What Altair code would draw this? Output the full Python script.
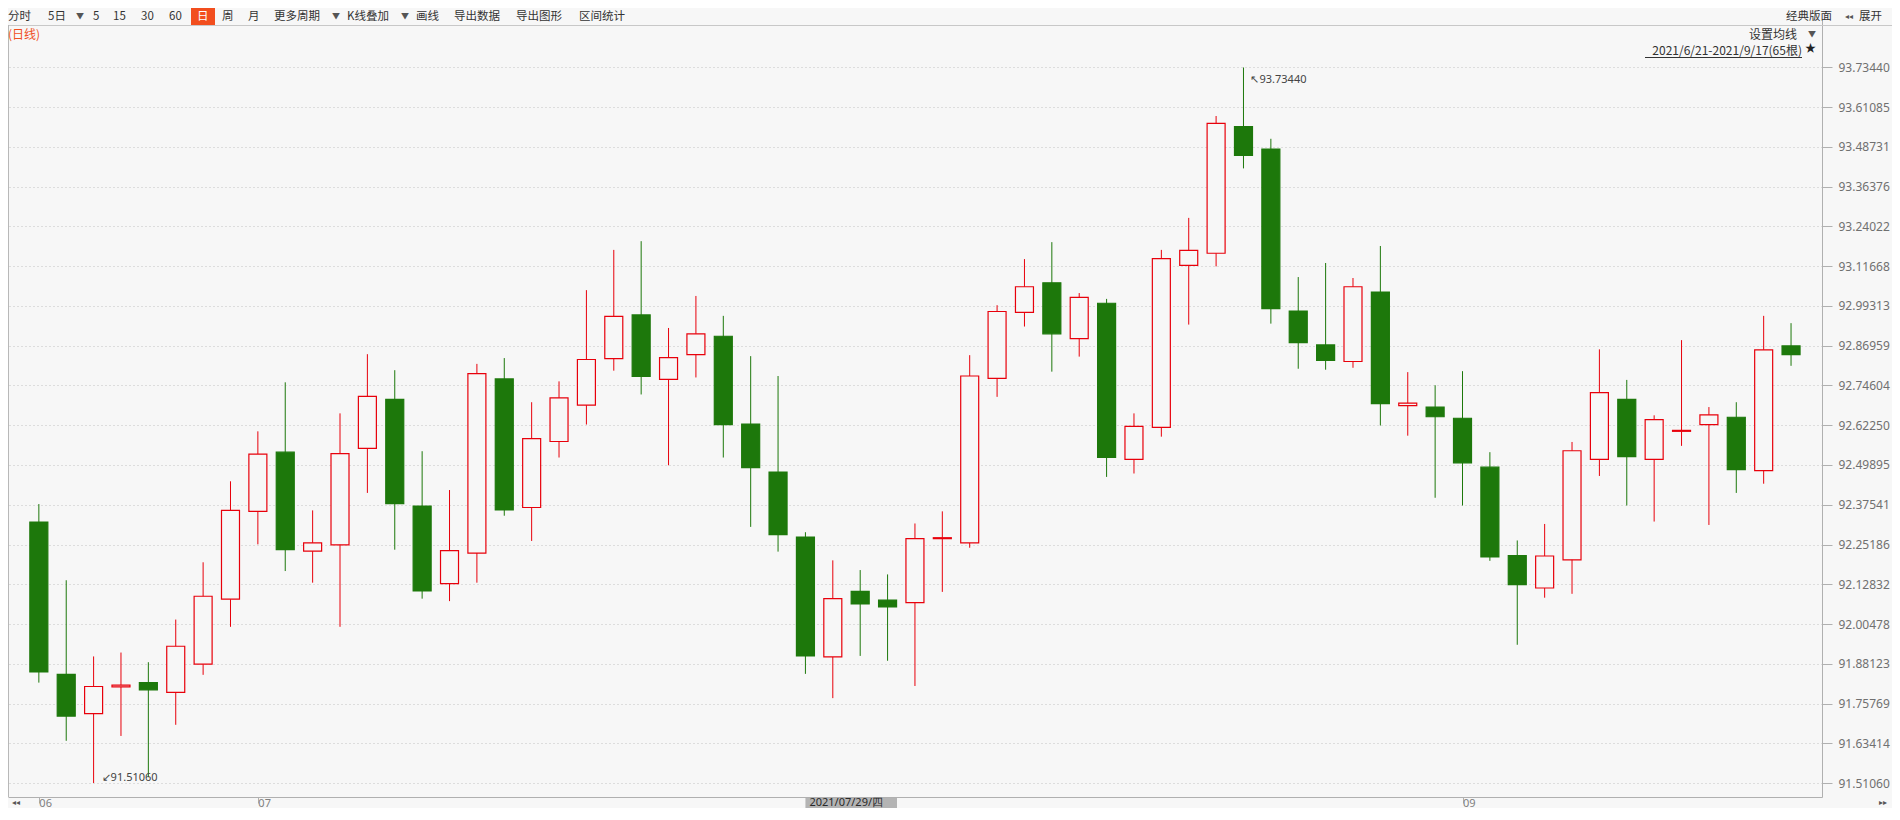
import altair as alt
import pandas as pd
import numpy as np

# ---------------- data ----------------
dates = pd.bdate_range("2021-06-21", "2021-09-17")  # 65 daily bars

opens = [92.3217, 91.8483, 91.7261, 91.8091, 91.8226, 91.7925, 91.8799, 92.0820, 92.3549, 92.5388,
         92.2312, 92.2508, 92.5509, 92.7031, 92.3714, 92.1302, 92.2252, 92.7665, 92.3669, 92.5720,
         92.6850, 92.8298, 92.9655, 92.7650, 92.8418, 92.8991, 92.6262, 92.4770, 92.2750, 91.9025,
         92.1061, 92.0790, 92.0714, 92.2700, 92.2569, 92.7680, 92.9730, 93.0650, 92.8916, 93.0017,
         92.5162, 92.6157, 93.1193, 93.1570, 93.5505, 93.4811, 92.9775, 92.8720, 92.8207, 93.0363,
         92.6835, 92.6790, 92.6443, 92.4921, 92.2177, 92.1166, 92.2041, 92.5162, 92.7031, 92.5162,
         92.6036, 92.6247, 92.6474, 92.4815, 92.8690]
highs = [92.3775, 92.1408, 91.9040, 91.9161, 91.8860, 92.0186, 92.1966, 92.4483, 92.6036, 92.7559,
         92.3579, 92.6594, 92.8434, 92.7936, 92.5418, 92.4212, 92.8132, 92.8313, 92.6941, 92.7589,
         93.0424, 93.1675, 93.1946, 92.9248, 93.0243, 92.9625, 92.8373, 92.7755, 92.2900, 92.2026,
         92.1724, 92.1589, 92.3172, 92.3549, 92.8403, 92.9956, 93.1389, 93.1916, 93.0333, 93.0152,
         92.6594, 93.1675, 93.2670, 93.5836, 93.7344, 93.5128, 93.0831, 93.1268, 93.0801, 93.1796,
         92.7876, 92.7469, 92.7906, 92.5388, 92.2644, 92.3157, 92.5705, 92.8584, 92.7634, 92.6534,
         92.8871, 92.6790, 92.6941, 92.9625, 92.9398]
lows = [91.8226, 91.6417, 91.5106, 91.6568, 91.5286, 91.6915, 91.8468, 91.9960, 92.2523, 92.1694,
        92.1332, 91.9960, 92.4122, 92.2357, 92.0835, 92.0759, 92.1332, 92.3413, 92.2629, 92.5222,
        92.6247, 92.7921, 92.7182, 92.4981, 92.7710, 92.5222, 92.3066, 92.2297, 91.8498, 91.7744,
        91.9056, 91.8905, 91.8121, 92.1046, 92.2418, 92.7107, 92.9293, 92.7891, 92.8358, 92.4619,
        92.4725, 92.5870, 92.9353, 93.1162, 93.4208, 92.9383, 92.7981, 92.7951, 92.8011, 92.6217,
        92.5901, 92.3971, 92.3730, 92.2011, 91.9402, 92.0865, 92.0986, 92.4649, 92.3730, 92.3232,
        92.5584, 92.3126, 92.4122, 92.4408, 92.8072]
closes = [91.8558, 91.7186, 91.8106, 91.8151, 91.8000, 91.9357, 92.0910, 92.3579, 92.5328, 92.2357,
          92.2569, 92.5343, 92.7122, 92.3790, 92.1076, 92.2327, 92.7830, 92.3594, 92.5810, 92.7077,
          92.8268, 92.9610, 92.7740, 92.8328, 92.9067, 92.6247, 92.4906, 92.2825, 91.9056, 92.0835,
          92.0669, 92.0578, 92.2704, 92.2730, 92.7755, 92.9760, 93.0529, 92.9067, 93.0198, 92.5222,
          92.6187, 93.1404, 93.1660, 93.5610, 93.4615, 92.9851, 92.8795, 92.8238, 93.0529, 92.6896,
          92.6911, 92.6489, 92.5056, 92.2131, 92.1272, 92.2162, 92.5433, 92.7242, 92.5252, 92.6398,
          92.6066, 92.6549, 92.4845, 92.8569, 92.8418]

y_tick_labels = ["93.73440", "93.61085", "93.48731", "93.36376", "93.24022", "93.11668",
                 "92.99313", "92.86959", "92.74604", "92.62250", "92.49895", "92.37541",
                 "92.25186", "92.12832", "92.00478", "91.88123", "91.75769", "91.63414", "91.51060"]

crosshair_index = 28
toolbar_items = ["分时", "5日", "5", "15", "30", "60", "日", "周", "月", "更多周期", "K线叠加",
                 "画线", "导出数据", "导出图形", "区间统计"]
range_label = "2021/6/21-2021/9/17(65根)"

# ---------------- styling / layout ----------------
BG = "#f7f7f7"
RED = "#e8000b"
GREEN = "#1d780b"
CJK = "Noto Sans CJK SC"
NUM = "Noto Sans"
W, H = 1814, 777          # plot area
OX, OY = 8, 20            # page position of the plot origin

x_domain = [-0.944, 64.948]
y_domain = [91.4671, 93.8820]

df = pd.DataFrame({"i": np.arange(len(opens)), "date": dates.strftime("%Y-%m-%d"),
                   "open": opens, "high": highs, "low": lows, "close": closes})
df["dir"] = np.where(df["close"] >= df["open"], "up", "down")

tick_vals = [float(s) for s in y_tick_labels]

# month ticks; the label under the crosshair date box is hidden (as in the original)
month_idx, month_lbl = [], []
for k, d in enumerate(dates):
    if k == 0 or d.month != dates[k - 1].month:
        month_idx.append(k)
        hidden = crosshair_index <= k <= crosshair_index + 3
        month_lbl.append("" if hidden else f"{d.month:02d}")
label_expr = " : ".join(f"datum.value == {i} ? '{l}'" for i, l in zip(month_idx, month_lbl)) + " : ''"

xs = alt.Scale(domain=x_domain, nice=False, zero=False)
ys = alt.Scale(domain=y_domain, nice=False, zero=False)

y_axis = alt.Axis(orient="right", values=tick_vals, format=".5f", title=None,
                  grid=True, gridDash=[1, 3], gridColor="#c2c2c2", gridWidth=1,
                  domain=True, domainColor="#b0b0b0", domainWidth=1,
                  ticks=True, tickColor="#b0b0b0", tickSize=10, tickWidth=1,
                  labelPadding=6, labelFont=NUM, labelFontSize=12, labelColor="#707070",
                  labelOverlap=False, labelFlush=False, labelBound=False)
x_axis = alt.Axis(orient="bottom", values=month_idx, labelExpr=label_expr, title=None,
                  grid=False, domain=True, domainColor="#b0b0b0", domainWidth=1,
                  ticks=True, tickColor="#b0b0b0", tickSize=6, tickWidth=1,
                  labelAlign="left", labelBaseline="middle", labelPadding=0,
                  labelFont=NUM, labelFontSize=11, labelColor="#808080",
                  labelOverlap=False, labelFlush=False, labelBound=False)

X = lambda f: alt.X(f, scale=xs, axis=x_axis)
Y = lambda f: alt.Y(f, scale=ys, axis=y_axis)

dir_dom = ["up", "down"]

wick = alt.Chart(df).mark_rule(strokeWidth=1).encode(
    x=X("i:Q"), y=Y("low:Q"), y2="high:Q",
    color=alt.Color("dir:N", scale=alt.Scale(domain=dir_dom, range=[RED, GREEN]), legend=None),
)

body = alt.Chart(df).mark_bar(size=18, strokeWidth=1.2).encode(
    x=X("i:Q"), y=Y("open:Q"), y2="close:Q",
    fill=alt.Fill("dir:N", scale=alt.Scale(domain=dir_dom, range=[BG, GREEN]), legend=None),
    stroke=alt.Stroke("dir:N", scale=alt.Scale(domain=dir_dom, range=[RED, GREEN]), legend=None),
)

hi_i = int(np.argmax(highs))
lo_i = int(np.argmin(lows))
hi_df = pd.DataFrame({"i": [hi_i], "v": [highs[hi_i]], "t": ["↖" + f"{highs[hi_i]:.5f}"]})
lo_df = pd.DataFrame({"i": [lo_i], "v": [lows[lo_i]], "t": ["↙" + f"{lows[lo_i]:.5f}"]})
hi_ann = alt.Chart(hi_df).mark_text(align="left", baseline="middle", dx=7, dy=13,
                                    font=NUM, fontSize=11, color="#444444").encode(
    x=X("i:Q"), y=Y("v:Q"), text="t:N")
lo_ann = alt.Chart(lo_df).mark_text(align="left", baseline="middle", dx=8, dy=-5,
                                    font=NUM, fontSize=11, color="#444444").encode(
    x=X("i:Q"), y=Y("v:Q"), text="t:N")

# crosshair date box on the x axis
wd = "一二三四五六日"[dates[crosshair_index].weekday()]
ch_text = dates[crosshair_index].strftime("%Y/%m/%d") + "/" + wd
ch_df = pd.DataFrame({"i": [crosshair_index], "t": [ch_text]})
ch_box = alt.Chart(ch_df).mark_rect(fill="#b4b4b4").encode(
    x=X("i:Q"), x2=alt.value(897 - OX),
    y=alt.value(798 - OY), y2=alt.value(812 - OY))
ch_txt = alt.Chart(ch_df).mark_text(align="left", baseline="middle", dx=4, font=NUM,
                                    fontSize=11, color="#2a2a2a").encode(
    x=X("i:Q"), y=alt.value(803 - OY), text="t:N")


def txt(s, px, py, size=12, color="#333333", align="left", font=CJK):
    return alt.Chart(pd.DataFrame({"t": [s]})).mark_text(
        align=align, baseline="middle", font=font, fontSize=size, color=color).encode(
        x=alt.value(px - OX), y=alt.value(py - OY), text="t:N")


def box(x1, x2, y1, y2, fill):
    return alt.Chart(pd.DataFrame({"a": [0]})).mark_rect(fill=fill).encode(
        x=alt.value(x1 - OX), x2=alt.value(x2 - OX), y=alt.value(y1 - OY), y2=alt.value(y2 - OY))


def hline(x1, x2, y, color, w=1):
    return alt.Chart(pd.DataFrame({"a": [0]})).mark_rule(color=color, strokeWidth=w).encode(
        x=alt.value(x1 - OX), x2=alt.value(x2 - OX), y=alt.value(y - OY))


def vline(x, y1, y2, color, w=1):
    return alt.Chart(pd.DataFrame({"a": [0]})).mark_rule(color=color, strokeWidth=w).encode(
        x=alt.value(x - OX), y=alt.value(y1 - OY), y2=alt.value(y2 - OY))


TY = 17  # toolbar text centre (page y)
TS = 11.5
tb_x = [8, 48, 93, 113, 141, 169, 197, 222, 248, 274, 347, 416, 454, 516, 579]
chrome = [
    hline(0, 1900, 25.5, "#c8c8c8"),
    vline(8.5, 25, 797, "#b8b8b8"),
    box(191, 215, 8, 25, "#f24e1e"),
]
for s, px in zip(toolbar_items, tb_x):
    chrome.append(txt(s, px, TY, size=TS, color="#ffffff" if s == "日" else "#333333"))
for px in [76, 332, 401]:
    chrome.append(txt("▼", px, TY, size=8, color="#555555"))
chrome += [
    txt("经典版面", 1786, TY, size=TS),
    txt("◂◂", 1845, TY, size=8, color="#555555"),
    txt("展开", 1859, TY, size=TS),
    txt("(日线)", 8, 35, color="#f04e23"),
    txt("设置均线", 1749, 35),
    txt("▼", 1808, 35, size=8, color="#555555"),
    txt(range_label, 1802, 51, align="right"),
    hline(1645, 1802, 57.5, "#333333"),
    txt("★", 1805, 49, size=11, color="#222222"),
    txt("◂◂", 12, 803, size=8, color="#555555"),
    txt("▸▸", 1879, 803, size=8, color="#555555"),
]

layers = [wick, body, hi_ann, lo_ann, ch_box, ch_txt] + chrome

chart = alt.layer(*layers).properties(
    width=W, height=H,
    padding={"left": 0, "top": OY - 8, "right": 1892 - (OX + W), "bottom": 800 - (OY - 8) - H},
    autosize=alt.AutoSizeParams(type="none"),
    background=BG,
).configure_view(stroke=None)

chart.save("out.html", embed_options={"renderer": "svg", "actions": False})
